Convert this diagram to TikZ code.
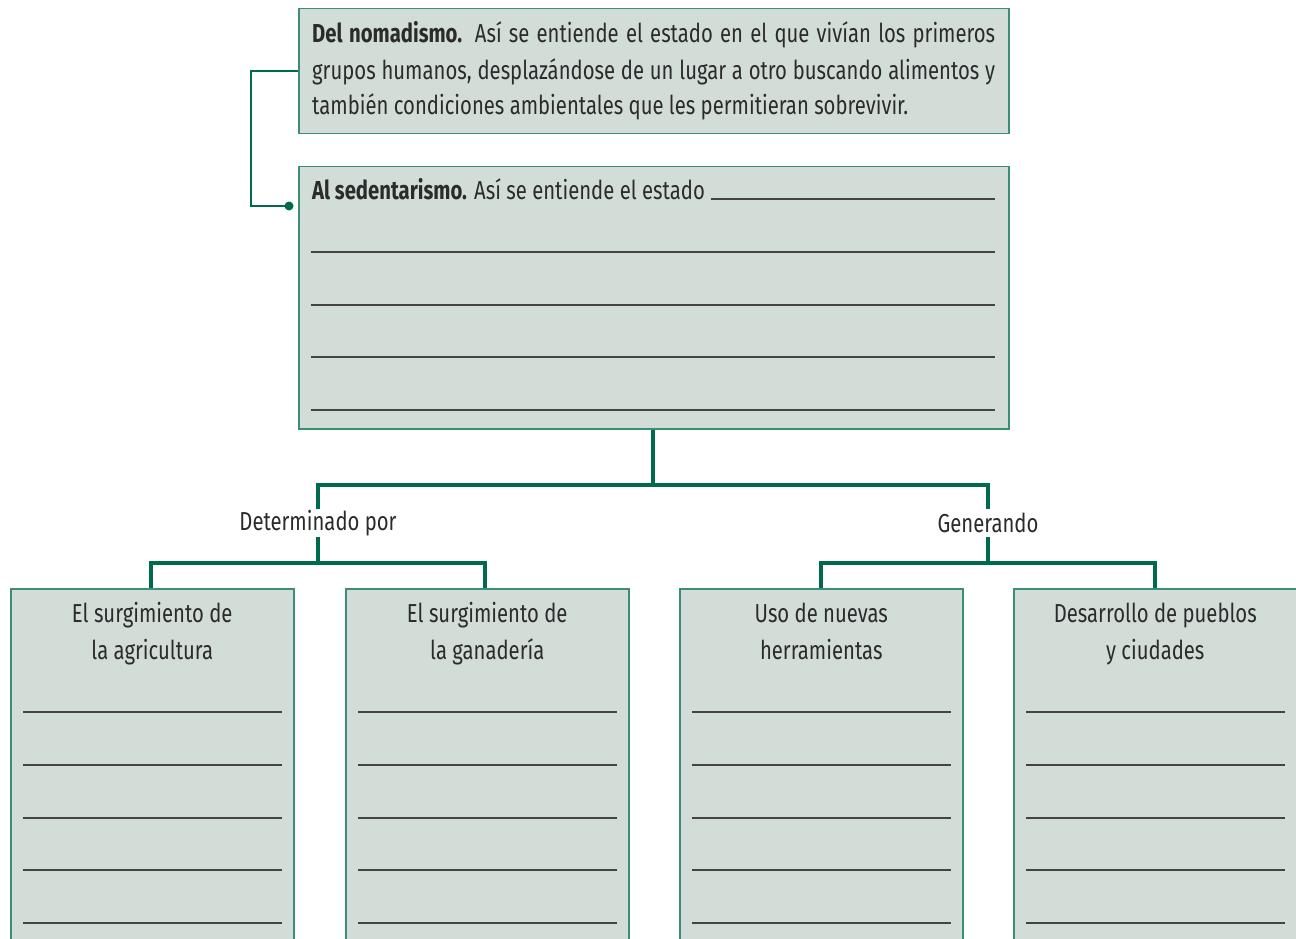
\documentclass[tikz,border=0pt]{standalone}
\usepackage{fontspec}
\setmainfont[FakeStretch=0.78]{Fira Sans}
\definecolor{boxfill}{HTML}{D3DDD8}
\definecolor{boxline}{HTML}{3A8F74}
\definecolor{conngreen}{HTML}{006A4E}
\definecolor{txt}{HTML}{2B2B2B}
\definecolor{wline}{HTML}{444444}
\tikzset{
  box/.style={draw=boxline, line width=1.5pt, fill=boxfill, anchor=north west, inner sep=0pt},
  conn/.style={draw=conngreen, line width=4.5pt},
  thinconn/.style={draw=conngreen, line width=1.8pt},
  wl/.style={draw=wline, line width=1.8pt},
  tx/.style={text=txt, font=\fontsize{26}{36}\selectfont, inner sep=0pt},
  lbl/.style={text=txt, font=\fontsize{26}{36}\selectfont, inner sep=0pt, minimum height=27pt, anchor=center, fill=white}
}
\begin{document}
\begin{tikzpicture}[x=1pt,y=-1pt]
\useasboundingbox (0,0) rectangle (1296,939);
\clip (0,0) rectangle (1296,939);
% top boxes
\node[box, minimum width=710pt, minimum height=125pt] (b1) at (298,8) {};
\node[box, minimum width=710pt, minimum height=262pt] (b2) at (298,166) {};
\node[tx, anchor=base west] (t1a) at (312,43) {\makebox[683pt][s]{\textbf{Del nomadismo.} Así se entiende el estado en el que vivían los primeros}};
\node[tx, anchor=base west] (t1b) at (312,80) {\makebox[683pt][s]{grupos humanos, desplazándose de un lugar a otro buscando alimentos y}};
\node[tx, anchor=base west] (t1c) at (312,115) {también condiciones ambientales que les permitieran sobrevivir.};
\node[tx, anchor=base west] (t2) at (312,199) {\textbf{Al sedentarismo.} Así se entiende el estado};
\draw[wl] ([xshift=6pt]t2.base east) -- (995,199);
\foreach \yy in {252,305,357,410} \draw[wl] (311,\yy) -- (995,\yy);
% left bracket
\coordinate (dot) at (289,206);
\draw[thinconn] (b1.west) -- ++(-47,0) |- (dot);
\fill[conngreen] (dot) circle (4.5pt);
% labels
\node[lbl] (det) at (318,523) {Determinado por};
\node[lbl] (gen) at (988,523) {Generando};
% bottom boxes
\node[box, minimum width=283pt, minimum height=400pt] (c1) at (10,588) {};
\node[box, minimum width=283pt, minimum height=400pt] (c2) at (345,588) {};
\node[box, minimum width=283pt, minimum height=400pt] (c3) at (679,588) {};
\node[box, minimum width=283pt, minimum height=400pt] (c4) at (1013,588) {};
\foreach \n/\a/\b in {c1/El surgimiento de/la agricultura, c2/El surgimiento de/la ganadería, c3/Uso de nuevas/herramientas, c4/Desarrollo de pueblos/y ciudades}{
  \node[tx, anchor=base] at ([yshift=-34pt]\n.north) {\a};
  \node[tx, anchor=base] at ([yshift=-71pt]\n.north) {\b};
  \foreach \yy in {124,177,230,282,335}
    \draw[wl] ([xshift=13pt,yshift=-\yy pt]\n.north west) -- ([xshift=-13pt,yshift=-\yy pt]\n.north east);
}
% connectors
\coordinate (j1) at (652,485);
\coordinate (j2) at (318,563);
\coordinate (j3) at (988,563);
\draw[conn] ([xshift=-1pt]b2.south) -- ([xshift=-1pt]b2.south |- j1);
\draw[conn] (det.north) |- (j1) -| (gen.north);
\draw[conn] (det.south) -- (j2);
\draw[conn] (gen.south) -- (j3);
\draw[conn] ([xshift=-1.5pt]c1.north) |- (j2) -| ([xshift=-2.5pt]c2.north);
\draw[conn] ([xshift=-0.5pt]c3.north) |- (j3) -| ([xshift=-0.5pt]c4.north);
\end{tikzpicture}
\end{document}
